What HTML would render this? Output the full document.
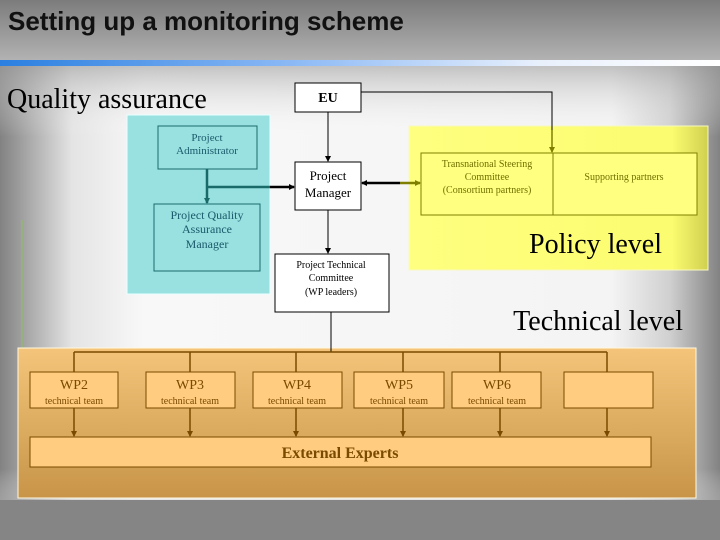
<!DOCTYPE html>
<html><head><meta charset="utf-8"><style>
html,body{margin:0;padding:0;width:720px;height:540px;overflow:hidden;background:#808080}
</style></head><body>
<svg width="720" height="540" xmlns="http://www.w3.org/2000/svg" style="display:block">
<defs>
<linearGradient id="hdr" x1="0" y1="0" x2="0" y2="1"><stop offset="0" stop-color="#7c7c7c"/><stop offset="1" stop-color="#b4b4b4"/></linearGradient>
<linearGradient id="blue" x1="0" y1="0" x2="1" y2="0"><stop offset="0" stop-color="#2a7fe0"/><stop offset="0.4" stop-color="#8ab8f5"/><stop offset="0.75" stop-color="#e8f0fc"/><stop offset="1" stop-color="#ffffff"/></linearGradient>
<linearGradient id="side" x1="0" y1="0" x2="1" y2="0"><stop offset="0" stop-color="#828282"/><stop offset="0.1" stop-color="#e4e4e4"/><stop offset="0.2" stop-color="#f8f8f8"/><stop offset="0.85" stop-color="#f4f4f4"/><stop offset="0.93" stop-color="#d0d0d0"/><stop offset="1" stop-color="#828282"/></linearGradient>
<linearGradient id="vert" x1="0" y1="0" x2="0" y2="1"><stop offset="0" stop-color="#a0a0a0" stop-opacity="0.6"/><stop offset="0.15" stop-color="#ffffff" stop-opacity="0"/><stop offset="0.85" stop-color="#ffffff" stop-opacity="0"/><stop offset="1" stop-color="#808080" stop-opacity="0.9"/></linearGradient>
<linearGradient id="org" x1="0" y1="0" x2="0" y2="1"><stop offset="0" stop-color="#f4c47a"/><stop offset="0.5" stop-color="#ddae62"/><stop offset="1" stop-color="#c89448"/></linearGradient>
<linearGradient id="yel" x1="0" y1="0" x2="1" y2="0"><stop offset="0" stop-color="#ffff80"/><stop offset="0.88" stop-color="#fcfc70"/><stop offset="1" stop-color="#d0d050"/></linearGradient>
<marker id="ab" markerUnits="userSpaceOnUse" markerWidth="6" markerHeight="6" refX="5" refY="3" orient="auto"><path d="M0,0 L6,3 L0,6z" fill="#000"/></marker>
<marker id="ao" markerUnits="userSpaceOnUse" markerWidth="6" markerHeight="6" refX="5" refY="3" orient="auto"><path d="M0,0 L6,3 L0,6z" fill="#7a4a00"/></marker>
<marker id="ay" markerUnits="userSpaceOnUse" markerWidth="6" markerHeight="6" refX="5" refY="3" orient="auto"><path d="M0,0 L6,3 L0,6z" fill="#808000"/></marker>
<marker id="at" markerUnits="userSpaceOnUse" markerWidth="6" markerHeight="6" refX="5" refY="3" orient="auto"><path d="M0,0 L6,3 L0,6z" fill="#1a6a6a"/></marker>
</defs>
<rect x="0" y="0" width="720" height="62" fill="url(#hdr)"/>
<rect x="0" y="66" width="720" height="434" fill="url(#side)"/>
<rect x="0" y="66" width="720" height="474" fill="url(#vert)"/>
<rect x="0" y="500" width="720" height="40" fill="#858585"/>
<rect x="0" y="60" width="720" height="6" fill="url(#blue)"/>
<text x="8" y="30" font-family="Liberation Sans, sans-serif" font-weight="bold" font-size="26" fill="#111">Setting up a monitoring scheme</text>
<text x="7" y="108" font-family="Liberation Serif, serif" font-size="28" fill="#000">Quality assurance</text>
<line x1="22" y1="220" x2="22" y2="348" stroke="#8cc060" stroke-width="1"/>

<rect x="127" y="115" width="143" height="179" fill="#99e0e0" stroke="#e8ffff" stroke-width="1"/>
<rect x="158" y="126" width="99" height="43" fill="#99e0e0" stroke="#1a6a6a"/>
<text font-family="Liberation Serif, serif" font-size="11" fill="#1a5a6a" text-anchor="middle"><tspan x="207" y="141">Project</tspan><tspan x="207" y="154">Administrator</tspan></text>
<rect x="154" y="204" width="106" height="67" fill="#99e0e0" stroke="#1a6a6a"/>
<text font-family="Liberation Serif, serif" font-size="12" fill="#1a5a6a" text-anchor="middle"><tspan x="207" y="219">Project Quality</tspan><tspan x="207" y="233">Assurance</tspan><tspan x="207" y="248">Manager</tspan></text>
<line x1="207" y1="169" x2="207" y2="203" stroke="#1a6a6a" stroke-width="2.5" marker-end="url(#at)"/>
<line x1="207" y1="187" x2="270" y2="187" stroke="#1a6a6a" stroke-width="2.5"/>
<line x1="270" y1="187" x2="294" y2="187" stroke="#000" stroke-width="2.5" marker-end="url(#ab)"/>

<rect x="409" y="126" width="299" height="144" fill="url(#yel)" stroke="#f8f8c0"/>
<rect x="421" y="153" width="276" height="62" fill="#ffff80" stroke="#808000"/>
<line x1="553" y1="153" x2="553" y2="215" stroke="#808000"/>
<text font-family="Liberation Serif, serif" font-size="10" fill="#707000" text-anchor="middle"><tspan x="487" y="167">Transnational Steering</tspan><tspan x="487" y="180">Committee</tspan><tspan x="487" y="193">(Consortium partners)</tspan></text>
<text x="624" y="180" font-family="Liberation Serif, serif" font-size="10" fill="#707000" text-anchor="middle">Supporting partners</text>
<text x="662" y="253" font-family="Liberation Serif, serif" font-size="28" fill="#000" text-anchor="end">Policy level</text>

<rect x="295" y="83" width="66" height="29" fill="#fff" stroke="#000"/>
<text x="328" y="102" font-family="Liberation Serif, serif" font-size="14" font-weight="bold" fill="#000" text-anchor="middle">EU</text>
<polyline points="361,92 552,92 552,130" fill="none" stroke="#000" stroke-width="1"/>
<line x1="552" y1="130" x2="552" y2="152" stroke="#808000" stroke-width="1.5" marker-end="url(#ay)"/>
<line x1="328" y1="112" x2="328" y2="161" stroke="#000" marker-end="url(#ab)"/>
<rect x="295" y="162" width="66" height="48" fill="#fff" stroke="#000"/>
<text font-family="Liberation Serif, serif" font-size="13" fill="#000" text-anchor="middle"><tspan x="328" y="180">Project</tspan><tspan x="328" y="197">Manager</tspan></text>
<line x1="400" y1="183" x2="362" y2="183" stroke="#000" stroke-width="2.5" marker-end="url(#ab)"/>
<line x1="400" y1="183" x2="420" y2="183" stroke="#808000" stroke-width="2.5" marker-end="url(#ay)"/>
<line x1="328" y1="210" x2="328" y2="253" stroke="#000" marker-end="url(#ab)"/>
<rect x="275" y="254" width="114" height="58" fill="#fff" stroke="#000"/>
<text font-family="Liberation Serif, serif" font-size="10" fill="#000" text-anchor="middle"><tspan x="331" y="268">Project Technical</tspan><tspan x="331" y="281">Committee</tspan><tspan x="331" y="295">(WP leaders)</tspan></text>
<text x="683" y="330" font-family="Liberation Serif, serif" font-size="28" fill="#000" text-anchor="end">Technical level</text>

<rect x="18" y="348" width="678" height="150" fill="url(#org)" stroke="#fff8e0"/>
<line x1="331" y1="312" x2="331" y2="352" stroke="#000"/>
<line x1="74" y1="352" x2="607" y2="352" stroke="#7a4a00" stroke-width="1.5"/>
<g stroke="#7a4a00" stroke-width="1.5">
<line x1="74" y1="352" x2="74" y2="372"/><line x1="190" y1="352" x2="190" y2="372"/><line x1="296" y1="352" x2="296" y2="372"/><line x1="403" y1="352" x2="403" y2="372"/><line x1="500" y1="352" x2="500" y2="372"/><line x1="607" y1="352" x2="607" y2="372"/>
<line x1="74" y1="408" x2="74" y2="436" marker-end="url(#ao)"/><line x1="190" y1="408" x2="190" y2="436" marker-end="url(#ao)"/><line x1="296" y1="408" x2="296" y2="436" marker-end="url(#ao)"/><line x1="403" y1="408" x2="403" y2="436" marker-end="url(#ao)"/><line x1="500" y1="408" x2="500" y2="436" marker-end="url(#ao)"/><line x1="607" y1="408" x2="607" y2="436" marker-end="url(#ao)"/>
</g>
<g fill="#ffcc80" stroke="#7a4a00">
<rect x="30" y="372" width="88" height="36"/><rect x="146" y="372" width="89" height="36"/><rect x="253" y="372" width="89" height="36"/><rect x="354" y="372" width="90" height="36"/><rect x="452" y="372" width="89" height="36"/><rect x="564" y="372" width="89" height="36"/>
<rect x="30" y="437" width="621" height="30"/>
</g>
<g font-family="Liberation Serif, serif" fill="#7a4a00" text-anchor="middle">
<text x="74" y="389" font-size="14">WP2</text><text x="74" y="404" font-size="10">technical team</text>
<text x="190" y="389" font-size="14">WP3</text><text x="190" y="404" font-size="10">technical team</text>
<text x="297" y="389" font-size="14">WP4</text><text x="297" y="404" font-size="10">technical team</text>
<text x="399" y="389" font-size="14">WP5</text><text x="399" y="404" font-size="10">technical team</text>
<text x="497" y="389" font-size="14">WP6</text><text x="497" y="404" font-size="10">technical team</text>
<text x="340" y="458" font-size="16" font-weight="bold">External Experts</text>
</g>
</svg>
</body></html>
